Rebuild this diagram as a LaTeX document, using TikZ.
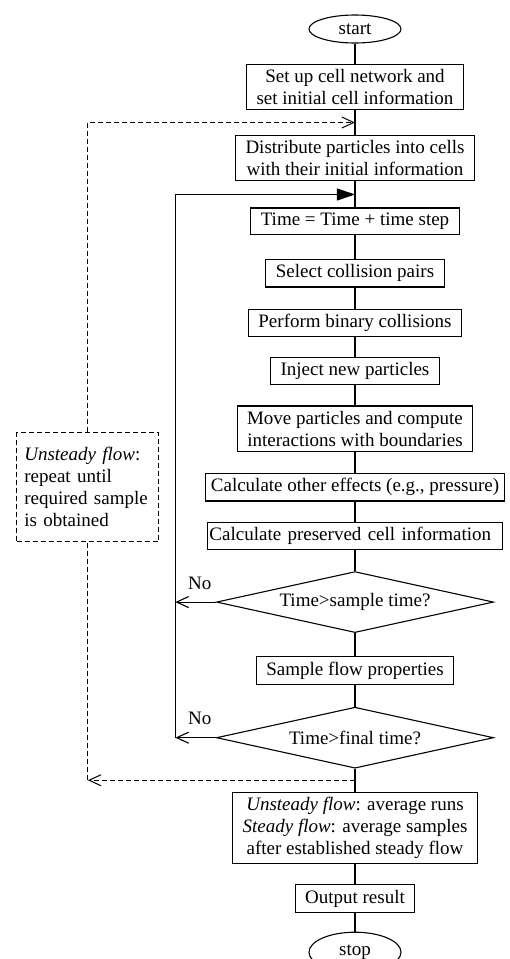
\documentclass[tikz,border=0pt]{standalone}
\usepackage{fontspec}
\setmainfont{Liberation Serif}
\usetikzlibrary{shapes.geometric, arrows.meta}
\usetikzlibrary{positioning}

\begin{document}
\begin{tikzpicture}[align=center, node distance=20pt, font=\fontsize{19}{22}\selectfont]

\tikzstyle{startstop} = [ellipse, minimum width=92pt, minimum height=28pt, inner sep=0pt, draw=black, line width=1.1pt]
\tikzstyle{process} = [rectangle, minimum height=25pt, inner xsep=10pt, inner ysep=5pt, text centered, draw=black, line width=1.1pt]
\tikzstyle{decision} = [diamond, aspect=4.5, minimum width=277pt, minimum height=61pt, inner sep=0pt, text centered, draw=black, line width=1.1pt]
\tikzstyle{note} = [rectangle, dash pattern=on 5pt off 3pt, text width=127pt, align=left, minimum height=109pt, inner xsep=7.5pt, draw=black, line width=1pt]
\tikzstyle{line} = [line width=1.1pt]
\tikzstyle{dashline} = [line width=1pt, dash pattern=on 5pt off 3pt]
\tikzstyle{arrow} = [line width=1.1pt, -{Straight Barb[length=12pt,width=11pt]}]
\tikzstyle{looparrow} = [line width=1.1pt, -{Triangle[length=18pt,width=12pt]}]
\tikzstyle{dasharrow} = [dashline, -{Straight Barb[length=12pt,width=11pt]}]
\tikzstyle{nolabel} = [inner sep=0pt, pos=0.4, above=12pt]

\useasboundingbox (-355pt,29pt) rectangle (154pt,-930pt);

\node (start) [startstop] {start};
\node (setup) [process, below=20pt of start] {Set up cell network and\\set initial cell information};
\node (distribute) [process, below=25pt of setup] {Distribute particles into cells\\with their initial information};
\node (timestep) [process, below=26pt of distribute] {Time = Time + time step};
\node (select) [process, below=24pt of timestep] {Select collision pairs};
\node (collide) [process, below=21pt of select] {Perform binary collisions};
\node (inject) [process, below=of collide] {Inject new particles};
\node (move) [process, below=of inject] {Move particles and compute\\interactions with boundaries};
\node (effects) [process, inner xsep=5pt, below=21pt of move] {Calculate other effects (e.g., pressure)};
\node (preserve) [process, inner xsep=2pt, text width=291pt, align=left, below=of effects] {Calculate preserved cell information};
\node (sampletime) [decision, below=21pt of preserve] {Time>sample time?};
\node (sample) [process, below=23pt of sampletime] {Sample flow properties};
\node (finaltime) [decision, below=22pt of sample] {Time>final time?};
\node (average) [process, below=23pt of finaltime] {\textit{Unsteady flow}: average runs\\\textit{Steady flow}: average samples\\after established steady flow};
\node (output) [process, below=of average] {Output result};
\node (stop) [startstop, minimum height=40pt, below=19pt of output] {stop};
\node (unsteady) [note, left=46pt of effects] {\hyphenpenalty=10000 \textit{Unsteady flow}:\\repeat until\\required sample\\is obtained};

% points on the main line where the loops come in and go out
\path (setup.south) -- coordinate[midway] (dashin) (distribute.north);
\path (distribute.south) -- coordinate[midway] (loopin) (timestep.north);
\path (finaltime.south) -- coordinate[midway] (dashout) (average.north);
\coordinate (loopline) at ([xshift=16pt]unsteady.east);

\draw [line] (start) -- (setup);
\draw [line] (setup) -- (distribute);
\draw [line] (distribute) -- (timestep);
\draw [line] (timestep) -- (select);
\draw [line] (select) -- (collide);
\draw [line] (collide) -- (inject);
\draw [line] (inject) -- (move);
\draw [line] (move) -- (effects);
\draw [line] (effects) -- (preserve);
\draw [line] (preserve) -- (sampletime);
\draw [line] (sampletime) -- (sample);
\draw [line] (sample) -- (finaltime);
\draw [line] (finaltime) -- (average);
\draw [line] (average) -- (output);
\draw [line] (output) -- (stop);

\draw [arrow] (sampletime.west) -- node[nolabel] {No} (sampletime.west -| loopline);
\draw [arrow] (finaltime.west) -- node[nolabel] {No} (finaltime.west -| loopline);
\draw [looparrow] (finaltime.west -| loopline) |- (loopin);

\draw [dasharrow] (dashout) -- (dashout -| unsteady.south);
\draw [dashline] (dashout -| unsteady.south) -- (unsteady.south);
\draw [dasharrow] (unsteady.north) |- (dashin);
\end{tikzpicture}
\end{document}
